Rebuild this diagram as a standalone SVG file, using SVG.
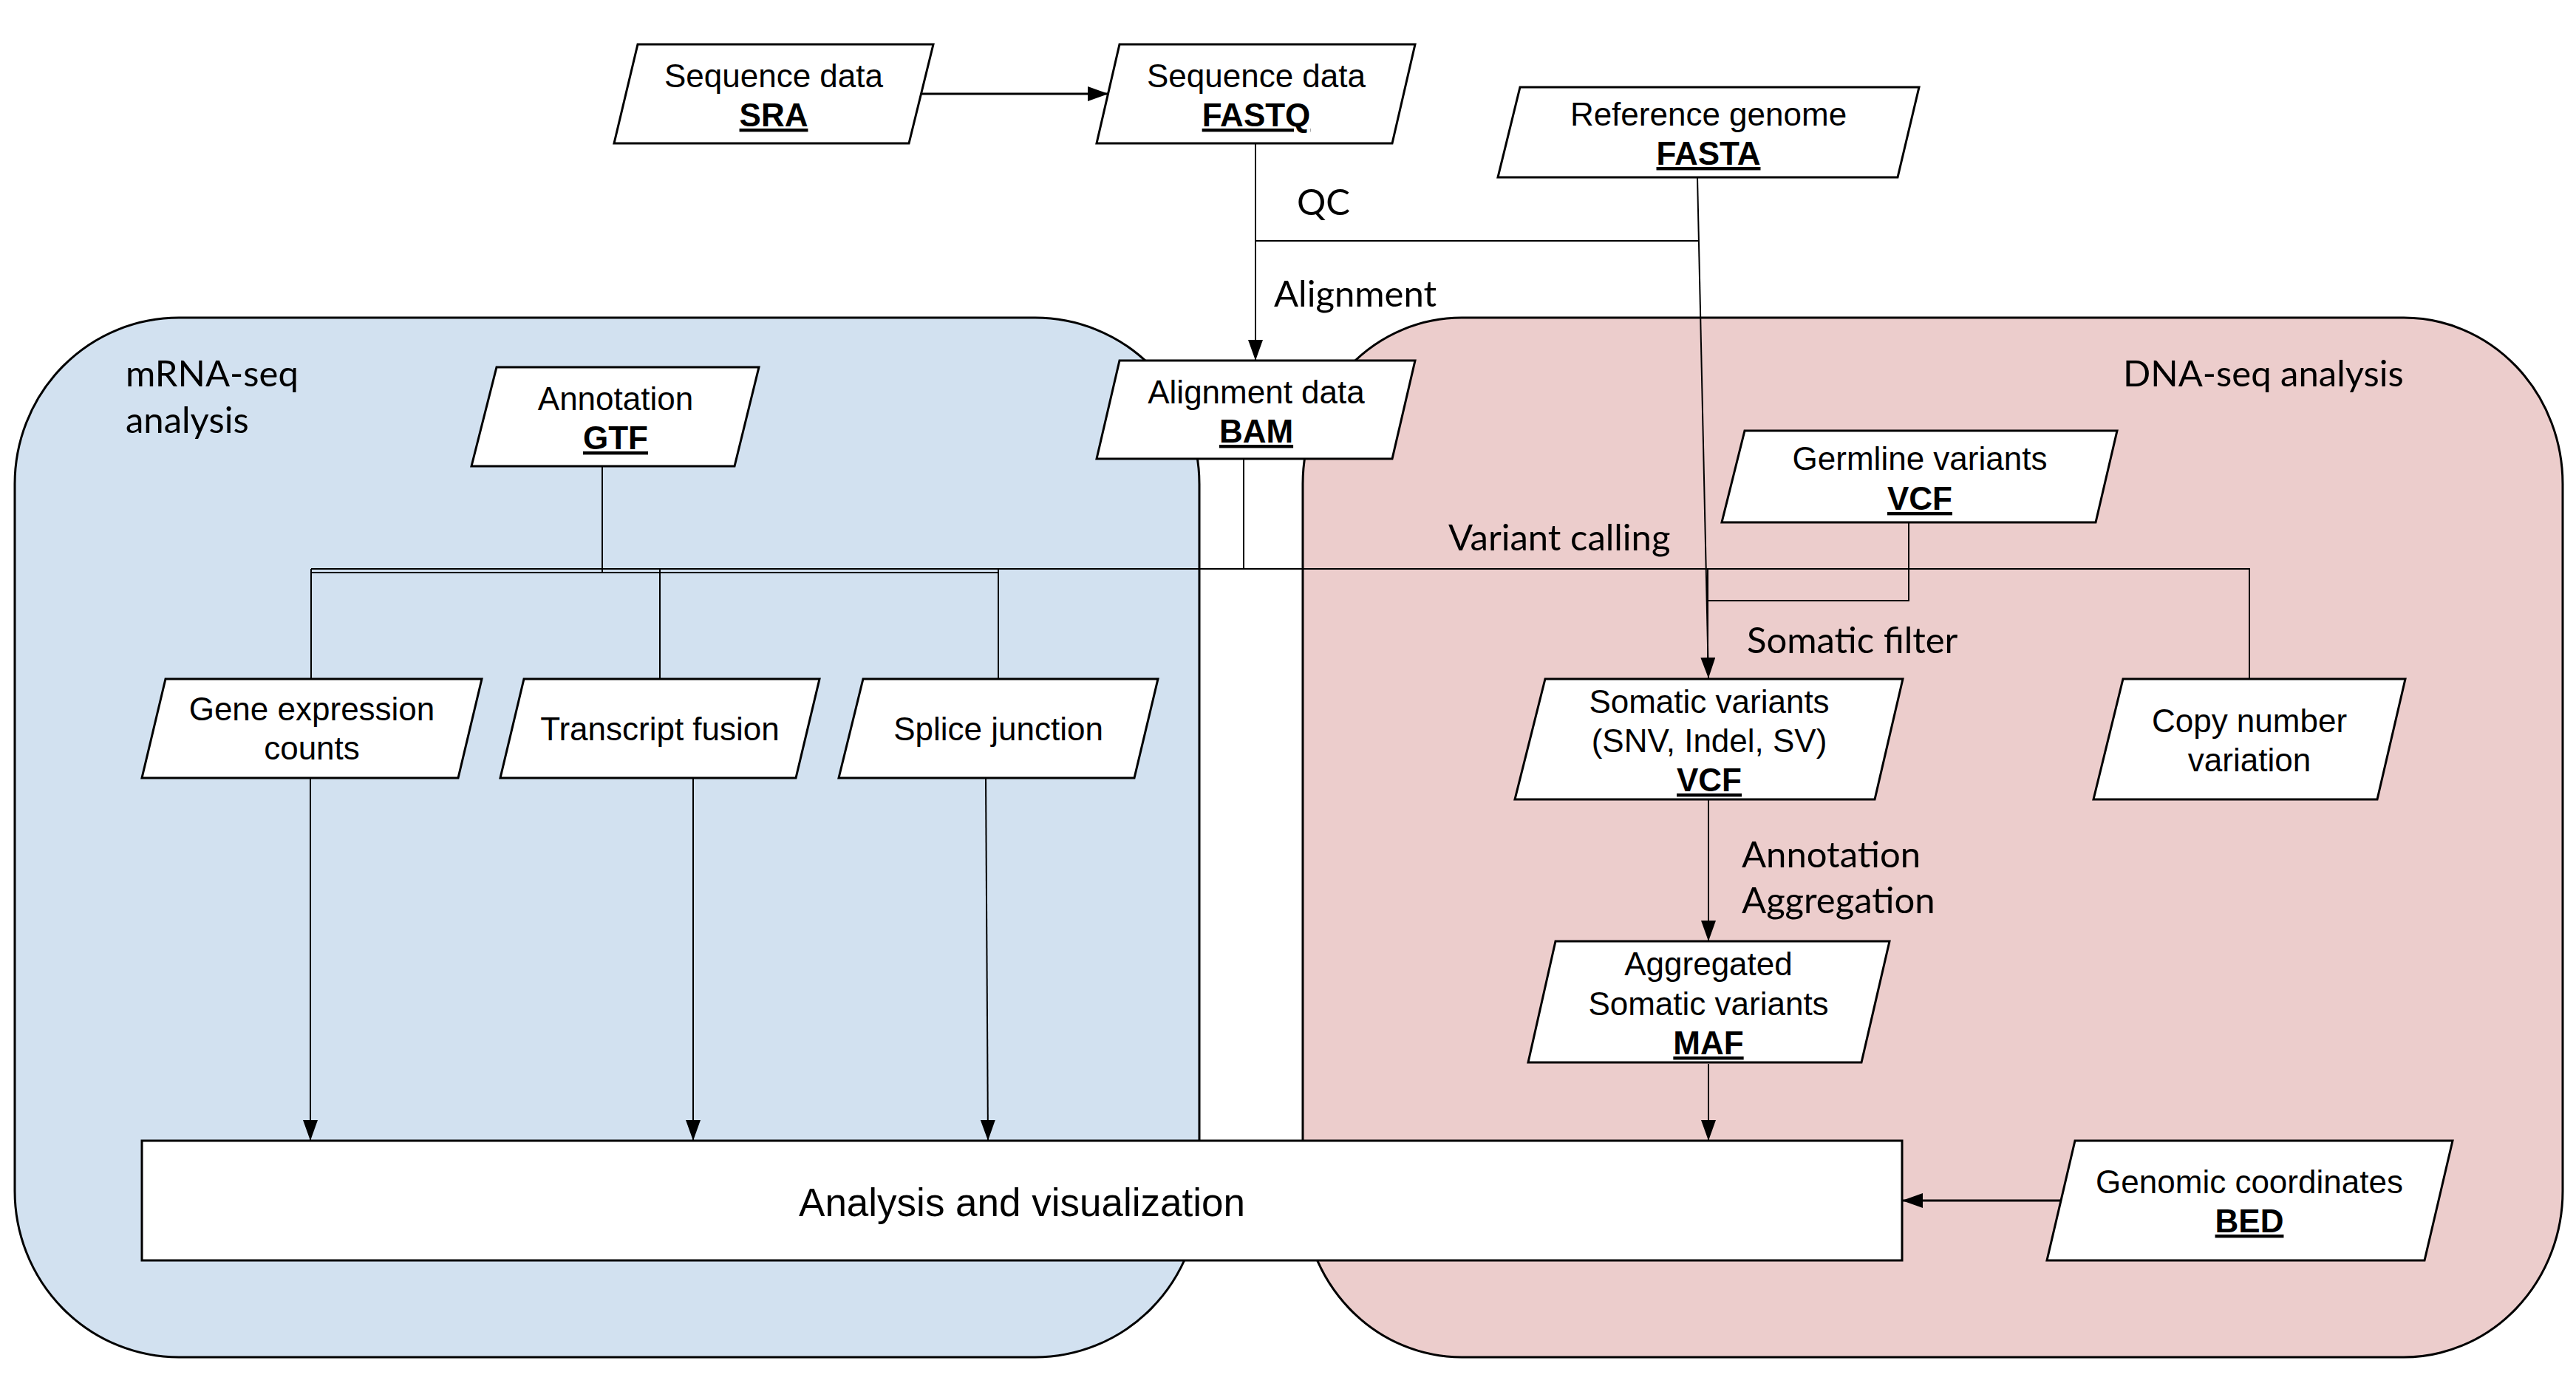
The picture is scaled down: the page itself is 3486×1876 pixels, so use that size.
<svg xmlns="http://www.w3.org/2000/svg" width="3486" height="1876" viewBox="0 0 3486 1876">
<defs>
<style>
.bg{fill:#ffffff}
.blue{fill:#D2E1F0;stroke:#000;stroke-width:3}
.pink{fill:#ECCDCC;stroke:#000;stroke-width:3}
.box{fill:#ffffff;stroke:#000;stroke-width:3;stroke-linejoin:miter}
.t{font-family:"Liberation Sans",Arial,sans-serif;font-size:44px;fill:#000;text-anchor:middle}
.b{font-weight:bold;text-decoration:underline}
.big{font-size:53px}
.lbl{font-family:Lato,"Open Sans",sans-serif;font-size:49px;fill:#000}
.c{fill:none;stroke:#000;stroke-width:2}
.cb{fill:none;stroke:#000;stroke-width:3}
</style>
<marker id="ah" markerUnits="userSpaceOnUse" markerWidth="30" markerHeight="22" refX="28" refY="10" orient="auto">
<path d="M0,0 L28,10 L0,20 Z" fill="#000"/>
</marker>
</defs>
<rect class="bg" x="0" y="0" width="3486" height="1876"/>
<g id="regions">
<rect id="mrna-region" class="blue" x="20" y="430" width="1603" height="1407" rx="222" ry="225"/>
<rect id="dna-region" class="pink" x="1763" y="430" width="1705" height="1407" rx="215" ry="225"/>
<text class="lbl" x="170" y="523">mRNA-seq</text>
<text class="lbl" x="170" y="586">analysis</text>
<text class="lbl" x="2873" y="523">DNA-seq analysis</text>
</g>
<g id="connectors">
<path class="cb" d="M1247,127 H1500" marker-end="url(#ah)"/>
<path class="c" d="M1699,194 V488" marker-end="url(#ah)"/>
<path class="c" d="M1699,326 H2299"/>
<path class="c" d="M2297,240 L2312,918" marker-end="url(#ah)"/>
<path class="c" d="M1683,621 V770"/>
<path class="c" d="M421,770 H3044 V919"/>
<path class="c" d="M421,770 V919 M893,770 V919 M1351,770 V919"/>
<path class="c" d="M2311,770 V900"/>
<path class="c" d="M815,631 V775 M421,775 H1351"/>
<path class="c" d="M2583,707 V813 H2312"/>
<path class="c" d="M2312,1082 V1274" marker-end="url(#ah)"/>
<path class="c" d="M2312,1440 V1544" marker-end="url(#ah)"/>
<path class="c" d="M420,1053 V1544" marker-end="url(#ah)"/>
<path class="c" d="M938,1053 V1544" marker-end="url(#ah)"/>
<path class="c" d="M1334,1053 L1337,1544" marker-end="url(#ah)"/>
<path class="cb" d="M2789,1625 H2574" marker-end="url(#ah)"/>
<text class="lbl" x="1755" y="291">QC</text>
<text class="lbl" x="1724" y="415">Alignment</text>
<text class="lbl" x="1960" y="745">Variant calling</text>
<text class="lbl" x="2364" y="884">Somatic filter</text>
<text class="lbl" x="2357" y="1174">Annotation</text>
<text class="lbl" x="2357" y="1236">Aggregation</text>
</g>
<g id="sra">
<polygon class="box" points="863,60 1263,60 1230,194 831,194"/>
<text class="t" x="1047" y="118">Sequence data</text>
<text class="t b" x="1047" y="171">SRA</text>
</g>
<g id="fastq">
<polygon class="box" points="1515,60 1915,60 1884,194 1484,194"/>
<text class="t" x="1700" y="118">Sequence data</text>
<text class="t b" x="1700" y="171">FASTQ</text>
</g>
<g id="fasta">
<polygon class="box" points="2057,118 2597,118 2568,240 2027,240"/>
<text class="t" x="2312" y="170">Reference genome</text>
<text class="t b" x="2312" y="223">FASTA</text>
</g>
<g id="bam">
<polygon class="box" points="1515,488 1915,488 1884,621 1484,621"/>
<text class="t" x="1700" y="546">Alignment data</text>
<text class="t b" x="1700" y="599">BAM</text>
</g>
<g id="gtf">
<polygon class="box" points="672,497 1027,497 994,631 638,631"/>
<text class="t" x="833" y="555">Annotation</text>
<text class="t b" x="833" y="608">GTF</text>
</g>
<g id="gene-expression">
<polygon class="box" points="224,919 652,919 620,1053 192,1053"/>
<text class="t" x="422" y="975">Gene expression</text>
<text class="t" x="422" y="1028">counts</text>
</g>
<g id="transcript-fusion">
<polygon class="box" points="709,919 1109,919 1077,1053 677,1053"/>
<text class="t" x="893" y="1002">Transcript fusion</text>
</g>
<g id="splice-junction">
<polygon class="box" points="1168,919 1567,919 1535,1053 1135,1053"/>
<text class="t" x="1351" y="1002">Splice junction</text>
</g>
<g id="germline">
<polygon class="box" points="2361,583 2865,583 2836,707 2330,707"/>
<text class="t" x="2598" y="636">Germline variants</text>
<text class="t b" x="2598" y="690">VCF</text>
</g>
<g id="somatic">
<polygon class="box" points="2091,919 2575,919 2537,1082 2050,1082"/>
<text class="t" x="2313" y="965">Somatic variants</text>
<text class="t" x="2313" y="1018">(SNV, Indel, SV)</text>
<text class="t b" x="2313" y="1071">VCF</text>
</g>
<g id="cnv">
<polygon class="box" points="2873,919 3255,919 3217,1082 2833,1082"/>
<text class="t" x="3044" y="991">Copy number</text>
<text class="t" x="3044" y="1044">variation</text>
</g>
<g id="maf">
<polygon class="box" points="2105,1274 2557,1274 2519,1438 2068,1438"/>
<text class="t" x="2312" y="1320">Aggregated</text>
<text class="t" x="2312" y="1374">Somatic variants</text>
<text class="t b" x="2312" y="1427">MAF</text>
</g>
<g id="analysis">
<rect class="box" x="192" y="1544" width="2382" height="162"/>
<text class="t big" x="1383" y="1646">Analysis and visualization</text>
</g>
<g id="bed">
<polygon class="box" points="2808,1544 3319,1544 3281,1706 2770,1706"/>
<text class="t" x="3044" y="1615">Genomic coordinates</text>
<text class="t b" x="3044" y="1668">BED</text>
</g>
</svg>
